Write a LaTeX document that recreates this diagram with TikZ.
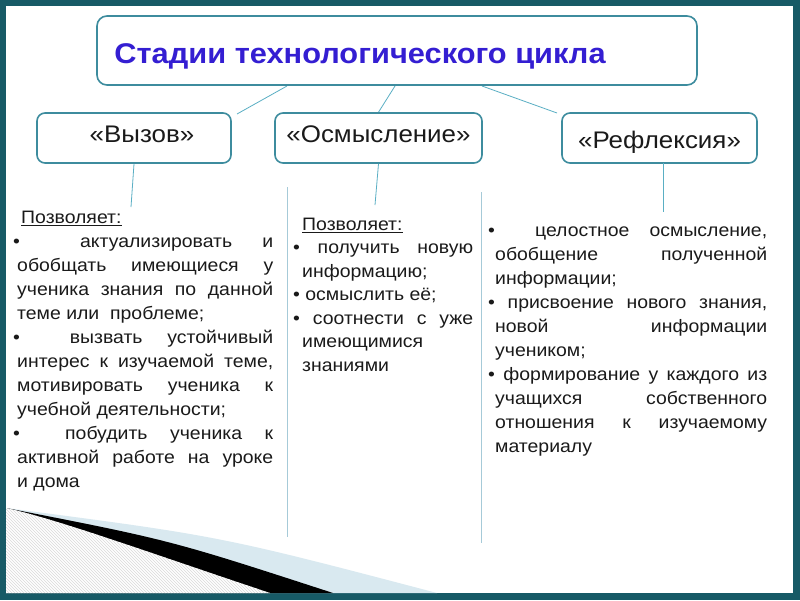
\documentclass[tikz,border=0pt]{standalone}
\usepackage{fontspec}
\setmainfont{Liberation Sans}[FakeStretch=1.08]
\definecolor{framecol}{HTML}{175A66}
\definecolor{boxline}{HTML}{3D8C9E}
\definecolor{conncol}{HTML}{5AAFC4}
\definecolor{sepcol}{HTML}{A6CAD8}
\definecolor{titleblue}{RGB}{52,30,210}
\definecolor{swooshcol}{HTML}{D9E9F0}
\definecolor{hatchcol}{HTML}{DADADA}
\definecolor{txtcol}{HTML}{1A1A1A}
\newcommand{\jl}[2]{\makebox[#1pt][s]{#2}}
\begin{document}
\begin{tikzpicture}[x=1pt,y=-1pt,
  stagebox/.style={draw=boxline, line width=1.6pt, rounded corners=8pt, fill=white,
    minimum height=50pt, inner sep=0pt, text=txtcol,
    font=\fontsize{24}{28}\selectfont, text height=12pt, text depth=4pt},
  titlebox/.style={draw=boxline, line width=1.6pt, rounded corners=10pt, fill=white,
    minimum width=600pt, minimum height=69pt, inner sep=0pt, text=titleblue,
    font=\fontsize{28.5}{32}\selectfont\bfseries, text height=25pt, text depth=0pt},
  conn/.style={draw=conncol, line width=0.8pt},
  sepline/.style={draw=sepcol, line width=1pt},
  hatchline/.style={draw=hatchcol, line width=0.45pt},
  coltext/.style={anchor=north west, inner sep=0pt, align=left, text=txtcol}]
\useasboundingbox (0,0) rectangle (800,600);
% frame
\fill[framecol] (0,0) rectangle (800,600);
\fill[white] (6,6) rectangle (793,593);
% bottom-left decoration
\fill[swooshcol] (6,508) .. controls (220,536) .. (437,593) -- (6,593) -- cycle;
\fill[black] (6,508) .. controls (170,540) .. (333,593) -- (6,593) -- cycle;
\fill[white] (6,508) .. controls (60,520) and (150,553) .. (270,593) -- (6,593) -- cycle;
\begin{scope}
  \clip (6,508) .. controls (60,520) and (150,553) .. (270,593) -- (6,593) -- cycle;
  \foreach \i in {-120,-117,...,280} \draw[hatchline] (\i,500) -- ++(100,100);
\end{scope}
% connector end points
\coordinate (c1a) at (287,86);
\coordinate (c1b) at (237,114);
\coordinate (c2a) at (395,86);
\coordinate (c2b) at (378,113);
\coordinate (c3a) at (482,86);
\coordinate (c3b) at (557,113);
\coordinate (v1e) at (131,207);
\coordinate (v2e) at (375,205);
\coordinate (v3s) at (663,163);
\coordinate (v3e) at (663,212);
% connectors drawn below the boxes
\draw[conn] (c1a) -- (c1b);
\draw[conn] (c2a) -- (c2b);
\draw[conn] (c3a) -- (c3b);
% boxes
\node[titlebox] (title) at (397,50.5) {Стадии технологического цикла\hspace*{74pt}};
\node[stagebox, minimum width=194pt] (vyzov) at (134,138) {\hspace*{16pt}«Вызов»};
\node[stagebox, minimum width=207pt] (osm) at (378.5,138) {«Осмысление»};
\node[stagebox, minimum width=195pt] (refl) at (659.5,138) {\raisebox{-6pt}{«Рефлексия»}};
% vertical connectors
\draw[conn] (vyzov.south) -- (v1e);
\draw[conn] (osm.south) -- (v2e);
\draw[conn] (v3s) -- (v3e);
% column separators
\draw[sepline] (287,187) -- (287,537);
\draw[sepline] (481,192) -- (481,543);
% column 1
\node[coltext, font=\fontsize{18}{24}\selectfont] (col1) at (17,206.2) {%
\strut\hspace*{4pt}\underline{Позволяет:}\\
\hspace*{-4pt}\jl{260}{•\ \ актуализировать и}\\
\jl{256}{обобщать имеющиеся у}\\
\jl{256}{ученика знания по данной}\\
теме или \ проблеме;\\
\hspace*{-4pt}\jl{260}{•\ \ вызвать устойчивый}\\
\jl{256}{интерес к изучаемой теме,}\\
\jl{256}{мотивировать ученика к}\\
учебной деятельности;\\
\hspace*{-4pt}\jl{260}{•\ \ побудить ученика к}\\
\jl{256}{активной работе на уроке}\\
и дома};
% column 2
\node[coltext, font=\fontsize{18}{23.5}\selectfont] (col2) at (302,213.5) {%
\strut\underline{Позволяет:}\\
\hspace*{-9pt}\jl{180}{• получить новую}\\
информацию;\\
\hspace*{-9pt}• осмыслить её;\\
\hspace*{-9pt}\jl{180}{• соотнести с уже}\\
имеющимися\\
знаниями};
% column 3
\node[coltext, font=\fontsize{18}{24}\selectfont] (col3) at (495,219.7) {%
\strut\hspace*{-7pt}\jl{279}{•\ \ целостное осмысление,}\\
\jl{272}{обобщение полученной}\\
информации;\\
\hspace*{-7pt}\jl{279}{• присвоение нового знания,}\\
\jl{272}{новой информации}\\
учеником;\\
\hspace*{-7pt}\jl{279}{• формирование у каждого из}\\
\jl{272}{учащихся собственного}\\
\jl{272}{отношения к изучаемому}\\
материалу};
\end{tikzpicture}
\end{document}
